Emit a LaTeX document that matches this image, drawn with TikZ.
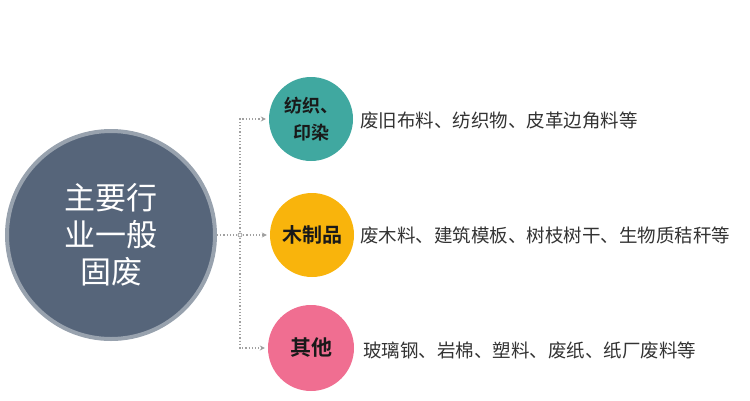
\documentclass[tikz,border=0pt]{standalone}
\usepackage{fontspec}
\setmainfont{Noto Sans CJK SC}
\newfontfamily\cjkb{Noto Sans CJK SC Bold}
\usetikzlibrary{arrows.meta}
\definecolor{bigfill}{HTML}{56657A}
\definecolor{ring}{HTML}{98A2AE}
\definecolor{teal1}{HTML}{40A8A0}
\definecolor{yel1}{HTML}{F9B40C}
\definecolor{pink1}{HTML}{F06E91}
\definecolor{conn}{HTML}{A0A0A0}
\definecolor{txt}{HTML}{333333}
\tikzset{
  cat/.style={circle, minimum size=84pt, inner sep=0pt, text=black!90, align=center},
  desc/.style={anchor=west, inner sep=0pt, text=txt, font=\fontsize{18.5}{20}\selectfont},
  link/.style={draw=conn, dotted, line width=1.2pt},
  linkarr/.style={link, -{Stealth[length=5pt,width=5pt]}, shorten >=3pt},
}
\begin{document}
\begin{tikzpicture}[x=1pt,y=-1pt]
\useasboundingbox (0,0) rectangle (750,400);
\node[circle, fill=bigfill, draw=ring, line width=4pt, minimum size=208pt, inner sep=0pt,
  text=white, align=center, font=\fontsize{31}{37}\selectfont] (big) at (111,235) {主要行\\业一般\\固废};
\node[cat, fill=teal1, font=\cjkb\fontsize{18}{27}\selectfont] (a) at (311,119) {纺织、\\印染};
\node[cat, fill=yel1, font=\cjkb\fontsize{20}{24}\selectfont] (b) at (312,235) {木制品};
\node[cat, fill=pink1, minimum size=86pt, font=\cjkb\fontsize{21}{24}\selectfont] (c) at (311,348) {其他};
\node[desc] (da) at (360,120) {废旧布料、纺织物、皮革边角料等};
\node[desc] (db) at (360,235) {废木料、建筑模板、树枝树干、生物质秸秆等};
\node[desc] (dc) at (363,350) {玻璃钢、岩棉、塑料、废纸、纸厂废料等};
\coordinate (j) at (240,235);
\draw[link] (big.east) -- (j);
\draw[linkarr] (j) |- (a.west);
\draw[linkarr] (j) -- (b.west);
\draw[linkarr] (j) |- (c.west);
\draw[conn, fill=white, line width=0.8pt] (j) circle (2pt);
\end{tikzpicture}
\end{document}
